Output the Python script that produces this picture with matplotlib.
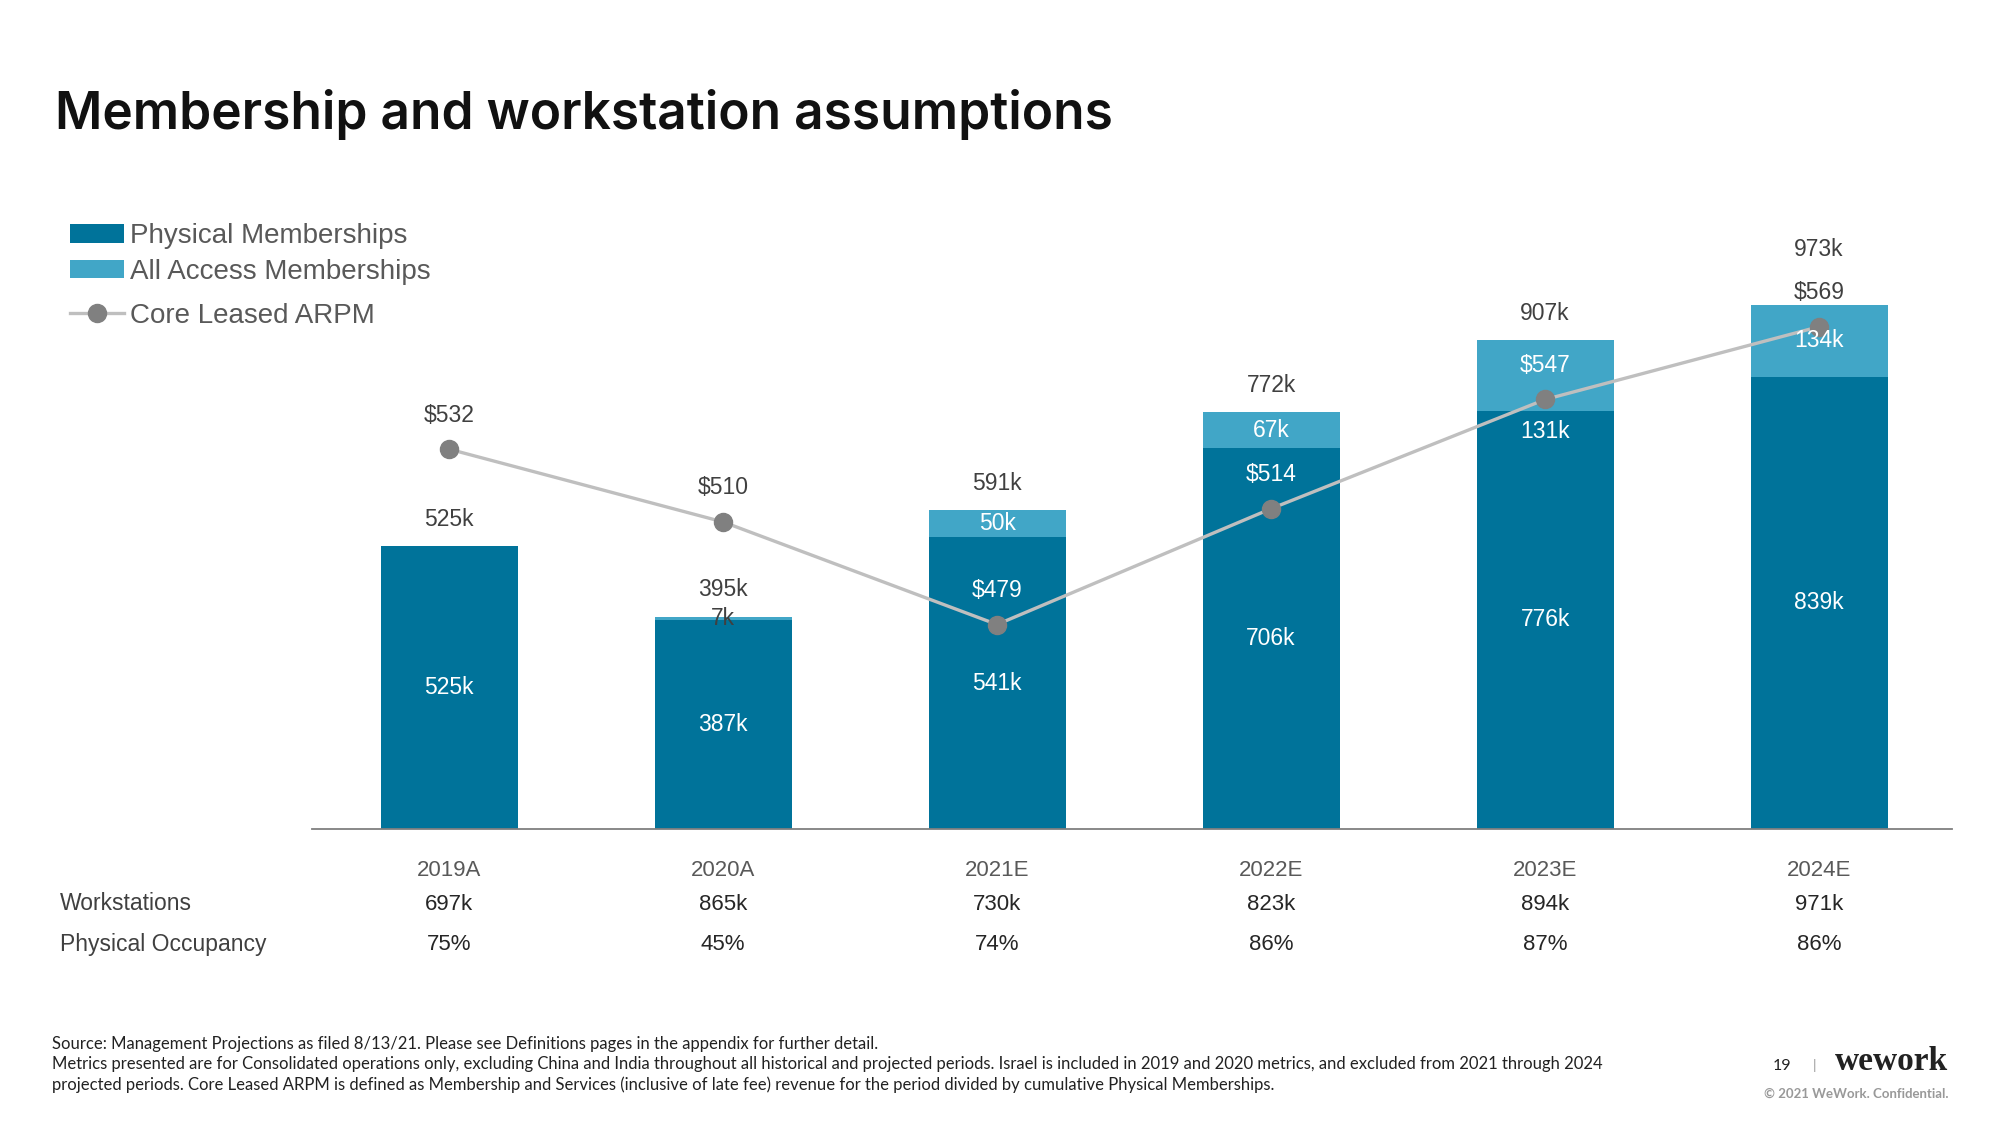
import matplotlib
matplotlib.use("Agg")
import matplotlib.pyplot as plt
import matplotlib.transforms as mtransforms
from matplotlib.lines import Line2D
from matplotlib.patches import Patch
import numpy as np

# ---------------- data ----------------
years = ["2019A", "2020A", "2021E", "2022E", "2023E", "2024E"]
physical = [525, 387, 541, 706, 776, 839]
all_access = [0, 7, 50, 67, 131, 134]
totals = [525, 395, 591, 772, 907, 973]
arpm = [532, 510, 479, 514, 547, 569]
workstations = ["697k", "865k", "730k", "823k", "894k", "971k"]
occupancy = ["75%", "45%", "74%", "86%", "87%", "86%"]

# ---------------- style ----------------
PHYS = "#00739A"
ACC = "#41A6C7"
LINE = "#BFBFBF"
MARK = "#808080"
DARK = "#404040"
WHITE = "#FFFFFF"
DPI = 100
PX2PT = 72.0 / DPI

plt.rcParams['font.family'] = ['Liberation Sans', 'DejaVu Sans']

fig = plt.figure(figsize=(20, 11.25), dpi=DPI)
fig.patch.set_facecolor("white")

H = 1125.0
W = 2000.0
base_px = 829
ax_h_px = 593
ax = fig.add_axes([312 / W, 1 - base_px / H, 1640 / W, ax_h_px / H])
x = np.arange(len(years))
bw = 0.5
ax.bar(x, physical, width=bw, color=PHYS, zorder=2)
ax.bar(x, all_access, bottom=physical, width=bw, color=ACC, zorder=2)
ax.set_xlim(-0.5, 5.485)
ax.set_ylim(0, ax_h_px / 0.539)
for s in ["top", "right", "left"]:
    ax.spines[s].set_visible(False)
ax.spines["bottom"].set_color("#7F7F7F")
ax.spines["bottom"].set_linewidth(1.3)
ax.set_yticks([])
ax.set_xticks(x)
ax.set_xticklabels(years)
ax.tick_params(axis="x", length=0, pad=22, labelsize=16, labelcolor="#595959")

ax2 = ax.twinx()
a2_lo = 417.2
ax2.set_ylim(a2_lo, a2_lo + ax_h_px / 3.309)
ax2.plot(x, arpm, color=LINE, lw=2.4, marker="o", ms=13, mfc=MARK, mec=MARK, zorder=3)
for s in ax2.spines.values():
    s.set_visible(False)
ax2.set_yticks([])

lab_fs = 16.5
# physical labels
for i in x:
    ax2.text(i, physical[i] / 2, f"{physical[i]}k", transform=ax.transData,
             ha="center", va="center", color=WHITE, fontsize=lab_fs, zorder=5)
# all access labels
acc_dy_px = [0, 0, 0, 0, -56, 0]
for i in x:
    if all_access[i] <= 0:
        continue
    col = WHITE if all_access[i] >= 20 else DARK
    ax2.annotate(f"{all_access[i]}k", xy=(i, physical[i] + all_access[i] / 2),
                 xycoords=ax.transData, xytext=(0, acc_dy_px[i] * PX2PT),
                 textcoords="offset points", ha="center", va="center",
                 color=col, fontsize=lab_fs, zorder=5)
# totals
tot_dy_px = [27, 27, 27, 27, 27, 55]
for i in x:
    ax2.annotate(f"{totals[i]}k", xy=(i, totals[i]), xycoords=ax.transData,
                 xytext=(0, tot_dy_px[i] * PX2PT), textcoords="offset points",
                 ha="center", va="center", color=DARK, fontsize=lab_fs, zorder=5)
# ARPM labels
arpm_dy_px = 34
for i in x:
    my = ax2.transData.transform((i, arpm[i]))[1]
    ty = ax.transData.transform((i, totals[i]))[1]
    col = WHITE if (my + arpm_dy_px) < ty - 5 else DARK
    ax2.annotate(f"${arpm[i]}", xy=(i, arpm[i]), xycoords="data",
                 xytext=(0, arpm_dy_px * PX2PT), textcoords="offset points",
                 ha="center", va="center", color=col, fontsize=lab_fs, zorder=5)

# table rows below
blend = mtransforms.blended_transform_factory(ax.transData, fig.transFigure)
y_ws = 1 - 904 / H
y_oc = 1 - 944 / H
fig.text(60 / W, y_ws, "Workstations", ha="left", va="center", fontsize=16.5, color=DARK)
fig.text(60 / W, y_oc, "Physical Occupancy", ha="left", va="center", fontsize=16.5, color=DARK)
for i in x:
    fig.text(i, y_ws, workstations[i], transform=blend, ha="center", va="center",
             fontsize=16, color="#262626")
    fig.text(i, y_oc, occupancy[i], transform=blend, ha="center", va="center",
             fontsize=16, color="#262626")

# legend (bars, then line slightly further down)
leg_kw = dict(loc="upper left", frameon=False, fontsize=20, handlelength=1.95,
              handleheight=0.65, handletextpad=0.2, labelspacing=0.35,
              borderpad=0, borderaxespad=0, labelcolor="#595959")
fig.legend([Patch(facecolor=PHYS), Patch(facecolor=ACC)],
           ["Physical Memberships", "All Access Memberships"],
           bbox_to_anchor=(70 / W, 1 - 223 / H), **leg_kw)
fig.legend([Line2D([], [], color=LINE, lw=2.4, marker="o", ms=13, mfc=MARK, mec=MARK)],
           ["Core Leased ARPM"],
           bbox_to_anchor=(70 / W, 1 - 303 / H), **leg_kw)

# title
fig.text(55 / W, 1 - 115 / H, "Membership and workstation assumptions",
         ha="left", va="center", fontsize=37, fontweight="semibold",
         family=["Inter", "Lato", "DejaVu Sans"], color="#111111")

# footnotes
foot = [
    "Source: Management Projections as filed 8/13/21. Please see Definitions pages in the appendix for further detail.",
    "Metrics presented are for Consolidated operations only, excluding China and India throughout all historical and projected periods. Israel is included in 2019 and 2020 metrics, and excluded from 2021 through 2024",
    "projected periods. Core Leased ARPM is defined as Membership and Services (inclusive of late fee) revenue for the period divided by cumulative Physical Memberships.",
]
for k, line in enumerate(foot):
    fig.text(52 / W, 1 - (1044 + 20.5 * k) / H, line, ha="left", va="center",
             fontsize=12, family=["Lato", "DejaVu Sans"], color="#222222")

fig.text(1782 / W, 1 - 1066 / H, "19", ha="center", va="center", fontsize=11.5,
         family=["Lato", "DejaVu Sans"], color="#222222")
fig.text(1815 / W, 1 - 1066 / H, "|", ha="center", va="center", fontsize=10,
         family=["Lato", "DejaVu Sans"], color="#999999")
fig.text(1948 / W, 1 - 1062 / H, "wework", ha="right", va="center", fontsize=24,
         fontweight="bold", family=["Liberation Serif", "DejaVu Serif"], color="#222222")
fig.text(1948 / W, 1 - 1094 / H, "\u00a9 2021 WeWork. Confidential.", ha="right", va="center",
         fontsize=9.5, fontweight="bold", family=["Lato", "DejaVu Sans"], color="#999999")

fig.savefig("out.png", dpi=DPI, facecolor="white")
